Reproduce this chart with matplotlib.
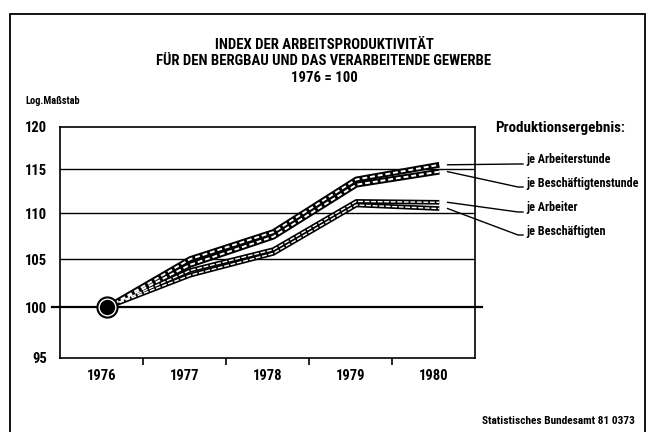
import matplotlib
matplotlib.use("Agg")
import matplotlib.pyplot as plt
from matplotlib.ticker import FixedLocator, NullFormatter, NullLocator
import matplotlib.patches as mpatches
from matplotlib import font_manager

# ---- data ----
years = ["1976", "1977", "1978", "1979", "1980"]
je_arbeiterstunde = [100, 105.0, 107.9, 113.8, 115.5]
je_beschaeftigtenstunde = [100, 104.4, 107.4, 113.2, 114.7]
je_arbeiter = [100, 103.8, 106.0, 111.3, 111.2]
je_beschaeftigten = [100, 103.3, 105.6, 110.9, 110.5]
series_labels = ["je Arbeiterstunde", "je Beschäftigtenstunde", "je Arbeiter", "je Beschäftigten"]
y_ticks = [95, 100, 105, 110, 115, 120]

# ---- font choice: prefer a narrow face ----
names = {f.name for f in font_manager.fontManager.ttflist}
for cand in ["Roboto Condensed", "Liberation Sans Narrow", "Roboto", "DejaVu Sans"]:
    if cand in names:
        FONT = [cand, "DejaVu Sans"]
        break
plt.rcParams["font.family"] = FONT

W, H = 648, 432
fig = plt.figure(figsize=(6.48, 4.32), dpi=100)

def fx(px):
    return px / W

def fy(py):
    return 1 - py / H

ax = fig.add_axes([fx(60), fy(358), fx(475) - fx(60), fy(127) - fy(358)])
ax.set_yscale("log")
ax.set_ylim(95, 120)
ax.set_xlim(-0.5, 4.5)

# frame of whole figure
fig.patches.append(mpatches.Rectangle((fx(10), fy(440)), fx(645) - fx(10), fy(14) - fy(440),
                                      transform=fig.transFigure, fill=False, lw=1.3,
                                      edgecolor="black"))

# grid lines
for v in [105, 110, 115]:
    ax.axhline(v, color="black", lw=1.0, zorder=1)
ax.plot([-0.6, 4.58], [100, 100], color="black", lw=1.6, clip_on=False, zorder=1)

xs = list(range(len(years)))
off = 0.07
xp = [x + off for x in xs]

def draw(vals, lw):
    ax.plot(xp, vals, color="black", lw=lw, solid_capstyle="butt", zorder=3)

def dash(vals, lw, d):
    ax.plot(xp, vals, color="white", lw=lw, dashes=d, zorder=4)

for s in [je_arbeiterstunde, je_beschaeftigtenstunde]:
    draw(s, 4.2)
for s in [je_arbeiterstunde, je_beschaeftigtenstunde]:
    dash(s, 1.4, (2.5, 1.5))
for s in [je_arbeiter, je_beschaeftigten]:
    draw(s, 3.4)
for s in [je_arbeiter, je_beschaeftigten]:
    dash(s, 1.0, (3.5, 1.2))

# start marker
ax.plot([xp[0]], [je_arbeiter[0]], marker="o", ms=15, color="black", zorder=6, clip_on=False)
ax.plot([xp[0]], [je_arbeiter[0]], marker="o", ms=12, color="white", zorder=7, clip_on=False)
ax.plot([xp[0]], [je_arbeiter[0]], marker="o", ms=10, color="black", zorder=8, clip_on=False)

# axes styling
for sp in ax.spines.values():
    sp.set_linewidth(1.2)
ax.yaxis.set_major_locator(FixedLocator(y_ticks))
ax.yaxis.set_minor_locator(NullLocator())
ax.yaxis.set_minor_formatter(NullFormatter())
ax.set_yticklabels([str(v) for v in y_ticks])
ax.tick_params(axis="y", length=0, pad=9, labelsize=10.5)
for lab in ax.get_yticklabels():
    lab.set_fontweight("bold")

ax.xaxis.set_major_locator(FixedLocator(xs))
ax.set_xticklabels(years)
ax.xaxis.set_minor_locator(FixedLocator([0.5, 1.5, 2.5, 3.5]))
ax.tick_params(axis="x", which="major", length=0, pad=8, labelsize=10.5)
ax.tick_params(axis="x", which="minor", length=5, width=1.2, direction="out")
for lab in ax.get_xticklabels():
    lab.set_fontweight("bold")

# titles
tx = fx(324)
fig.text(tx, fy(45), "INDEX DER ARBEITSPRODUKTIVITÄT", ha="center", va="center",
         fontsize=10.6, fontweight="bold")
fig.text(tx, fy(61), "FÜR DEN BERGBAU UND DAS VERARBEITENDE GEWERBE", ha="center",
         va="center", fontsize=10.6, fontweight="bold")
fig.text(tx, fy(78), "1976 = 100", ha="center", va="center", fontsize=10.6, fontweight="bold")
fig.text(fx(25), fy(101), "Log.Maßstab", ha="left", va="center", fontsize=7.5, fontweight="bold")
fig.text(fx(495), fy(128), "Produktionsergebnis:", ha="left", va="center", fontsize=10.8,
         fontweight="bold")
fig.text(fx(635), fy(421), "Statistisches Bundesamt 81 0373", ha="right", va="center",
         fontsize=8.2, fontweight="bold")

# labels with leader lines
series = [je_arbeiterstunde, je_beschaeftigtenstunde, je_arbeiter, je_beschaeftigten]
label_y = [160, 183, 208, 231]
inv = fig.transFigure.inverted()
for s, lab, ly in zip(series, series_labels, label_y):
    x0, y0 = ax.transData.transform((xp[-1] + 0.1, s[-1]))
    p0 = inv.transform((x0, y0))
    p1 = (fx(518), fy(ly + 4))
    fig.lines.append(plt.Line2D([p0[0], p1[0], p1[0] + fx(5)], [p0[1], p1[1], p1[1]],
                                transform=fig.transFigure, color="black", lw=1.0))
    fig.text(fx(526), fy(ly), lab, ha="left", va="center", fontsize=8.7, fontweight="bold")

fig.savefig("out.png", dpi=100)
